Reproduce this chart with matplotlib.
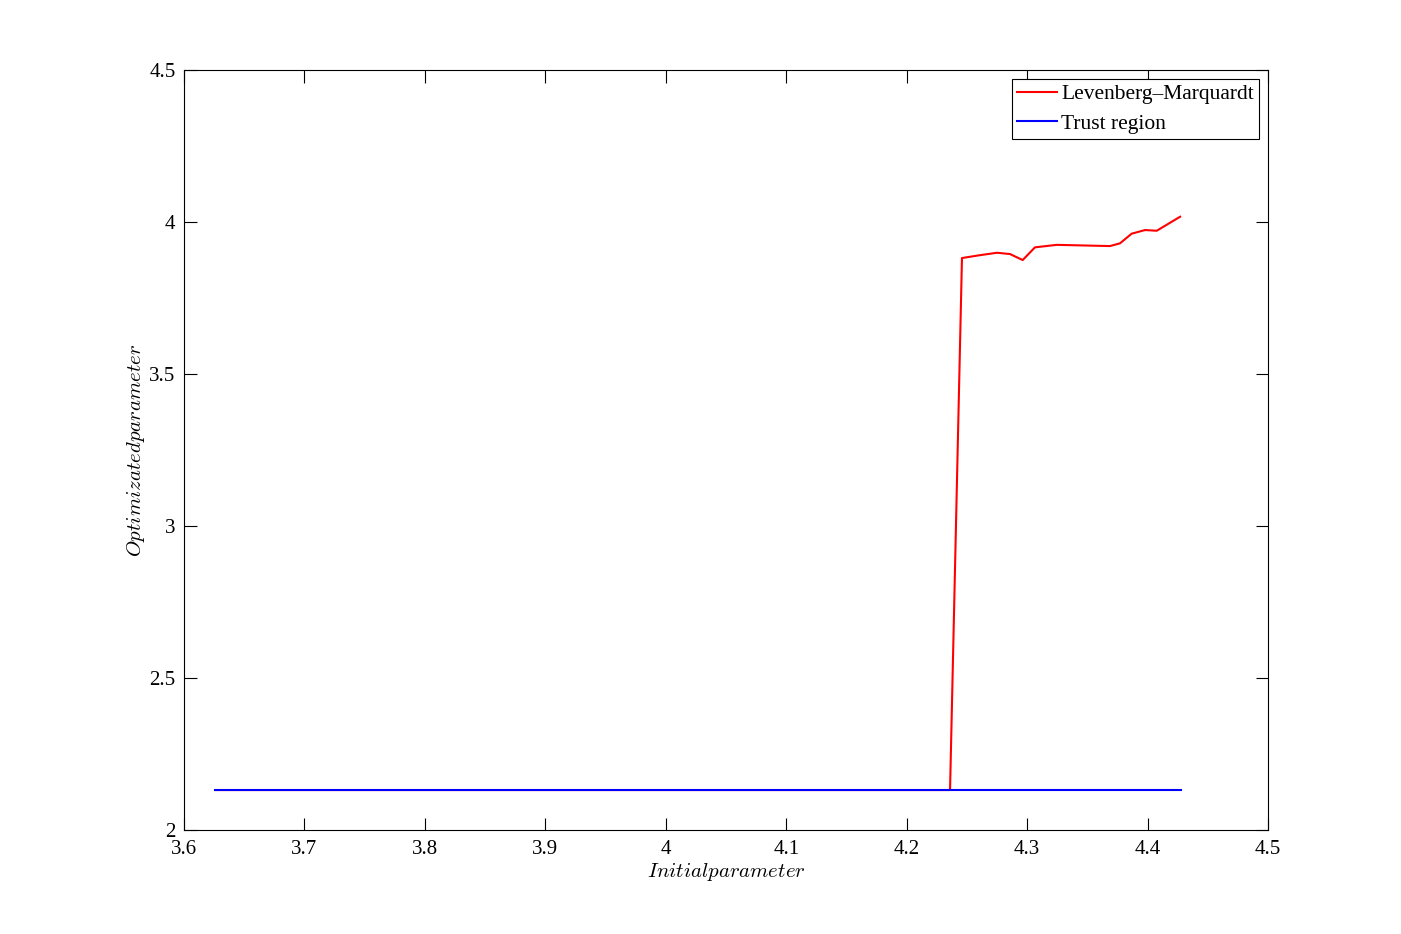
import matplotlib
matplotlib.use("Agg")
import matplotlib.pyplot as plt

# Data
lm_x = [3.626, 4.236, 4.2459, 4.2608, 4.275, 4.2858, 4.2963, 4.3065, 4.3246,
        4.3688, 4.3771, 4.3868, 4.3979, 4.4076, 4.427]
lm_y = [2.1316, 2.1316, 3.8816, 3.891, 3.899, 3.8947, 3.875, 3.9168, 3.925,
        3.921, 3.93, 3.9618, 3.9737, 3.9714, 4.0175]
tr_x = [3.626, 4.428]
tr_y = [2.1316, 2.1316]

xticks = [3.6, 3.7, 3.8, 3.9, 4.0, 4.1, 4.2, 4.3, 4.4, 4.5]
xticklabels = ["3.6", "3.7", "3.8", "3.9", "4", "4.1", "4.2", "4.3", "4.4", "4.5"]
yticks = [2, 2.5, 3, 3.5, 4, 4.5]
yticklabels = ["2", "2.5", "3", "3.5", "4", "4.5"]

plt.rcParams['font.family'] = ['Liberation Serif', 'DejaVu Serif']
plt.rcParams['mathtext.fontset'] = 'cm'

fig = plt.figure(figsize=(14.01, 9.34), dpi=100)
ax = fig.add_axes([0.1313, 0.1113, 0.7738, 0.8137])

ax.plot(lm_x, lm_y, color='#ff0000', lw=1.5, label='Levenberg\u2013Marquardt')
ax.plot(tr_x, tr_y, color='#0000ff', lw=1.5, label='Trust region')

ax.set_xlim(3.6, 4.5)
ax.set_ylim(2, 4.5)
ax.set_xticks(xticks)
ax.set_xticklabels(xticklabels)
ax.set_yticks(yticks)
ax.set_yticklabels(yticklabels)
ax.tick_params(axis='both', direction='in', top=True, right=True, length=9,
               width=0.8, labelsize=15)
ax.tick_params(axis='x', pad=7)
ax.tick_params(axis='y', pad=6)
for s in ax.spines.values():
    s.set_linewidth(0.8)

ax.set_xlabel(r'$Initial parameter$', fontsize=15, labelpad=1.5)
ax.set_ylabel(r'$Optimizated parameter$', fontsize=15, labelpad=2)

leg = ax.legend(loc='upper right', fontsize=15.5, frameon=True, fancybox=False,
                edgecolor='black', framealpha=1, handlelength=1.85,
                handletextpad=0.2, borderaxespad=0.4, borderpad=0.25,
                labelspacing=0.45)
leg.get_frame().set_linewidth(0.8)

fig.savefig('out.png', dpi=100)
